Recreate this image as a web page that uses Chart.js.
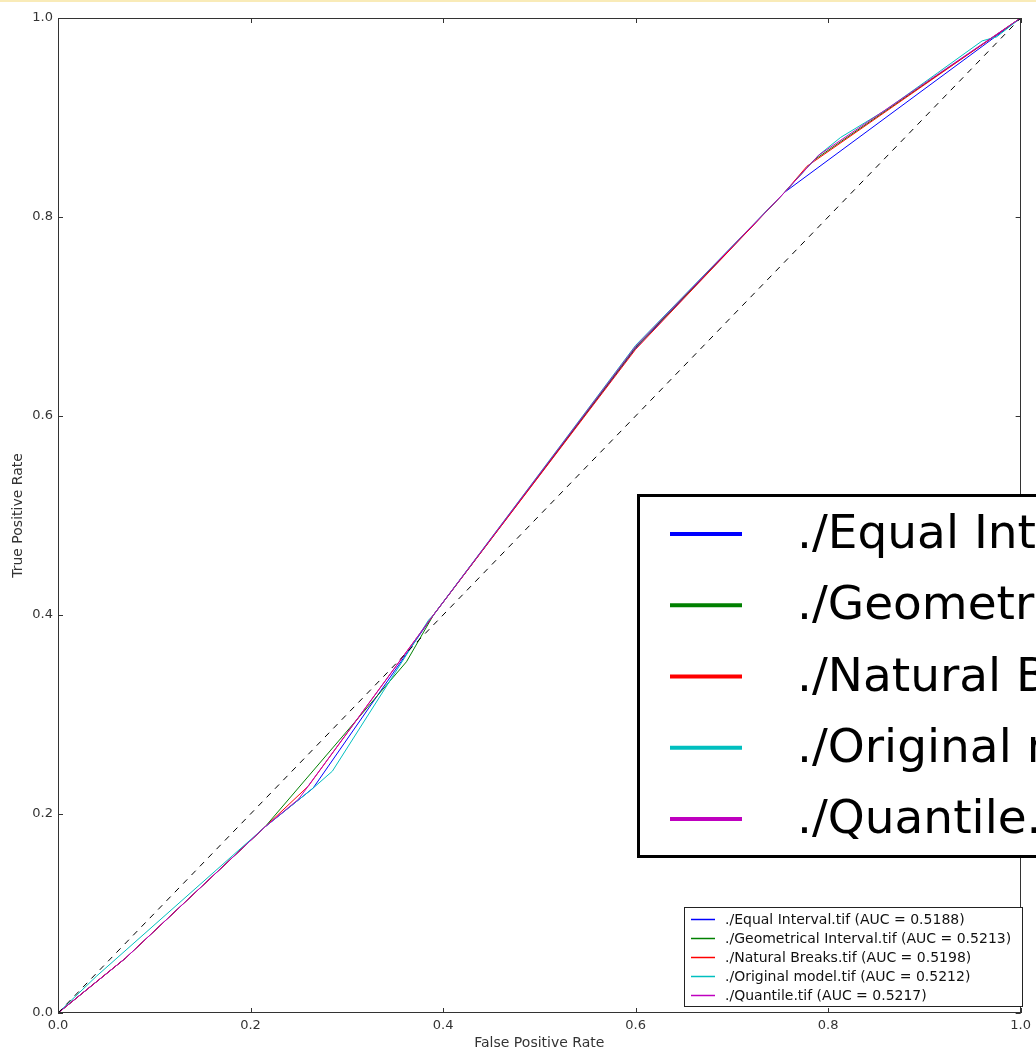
<!DOCTYPE html>
<html>
<head>
<meta charset="utf-8">
<script src="https://cdn.jsdelivr.net/npm/chart.js@4.4.1/dist/chart.umd.min.js"></script>
<style>
  html, body { margin: 0; padding: 0; background: #fff; }
  #wrap { position: relative; width: 1036px; height: 1052px; overflow: hidden; }
  #topband { position: absolute; left: 0; top: 0; width: 1036px; height: 2px; background: #f9ebb8; }
</style>
</head>
<body>
<div id="wrap">
  <canvas id="roc" width="1036" height="1052"></canvas>
  <div id="topband"></div>
</div>
<script>
// series names and colours (matplotlib classic b, g, r, c, m)
const names = [
  './Equal Interval.tif (AUC = 0.5188)',
  './Geometrical Interval.tif (AUC = 0.5213)',
  './Natural Breaks.tif (AUC = 0.5198)',
  './Original model.tif (AUC = 0.5212)',
  './Quantile.tif (AUC = 0.5217)'
];
const colors = ['#0000ff', '#008000', '#ff0000', '#00bfbf', '#bf00bf'];

// ROC points
const equalFpr = [0, 0.07, 0.215, 0.265, 0.39, 0.6, 0.755, 1];
const equalTpr = [0, 0.055, 0.187, 0.226, 0.40, 0.668, 0.825, 1];

const geoFpr = [0, 0.07, 0.215, 0.362, 0.39, 0.6, 0.755, 0.785, 1];
const geoTpr = [0, 0.055, 0.187, 0.353, 0.40, 0.669, 0.825, 0.857, 1];

const naturalFpr = [0, 0.07, 0.215, 0.26, 0.39, 0.6, 0.755, 0.778, 1];
const naturalTpr = [0, 0.055, 0.187, 0.228, 0.40, 0.667, 0.825, 0.851, 1];

const originalFpr = [0, 0.04, 0.215, 0.265, 0.285, 0.385, 0.39, 0.6, 0.755, 0.79, 0.813, 0.859, 0.914, 0.96, 0.975, 1];
const originalTpr = [0, 0.037, 0.187, 0.226, 0.243, 0.395, 0.40, 0.671, 0.825, 0.862, 0.88, 0.907, 0.945, 0.977, 0.981, 1];

const quantileFpr = [0, 0.07, 0.215, 0.25, 0.39, 0.6, 0.755, 0.79, 1];
const quantileTpr = [0, 0.055, 0.187, 0.215, 0.40, 0.670, 0.825, 0.862, 1];

const chanceFpr = [0, 1];
const chanceTpr = [0, 1];

const tickValues = [0, 0.2, 0.4, 0.6, 0.8, 1.0];

const seriesFpr = [equalFpr, geoFpr, naturalFpr, originalFpr, quantileFpr];
const seriesTpr = [equalTpr, geoTpr, naturalTpr, originalTpr, quantileTpr];

function toPoints(xs, ys) {
  return xs.map((x, i) => ({ x: x, y: ys[i] }));
}

const datasets = names.map((name, i) => ({
  label: name,
  data: toPoints(seriesFpr[i], seriesTpr[i]),
  borderColor: colors[i],
  backgroundColor: colors[i],
  borderWidth: 1,
  showLine: true,
  pointRadius: 0,
  order: 5 - i
}));
datasets.push({
  label: 'chance',
  data: toPoints(chanceFpr, chanceTpr),
  borderColor: '#000',
  borderWidth: 1,
  borderDash: [6, 6],
  showLine: true,
  pointRadius: 0,
  order: 0
});

const FONT = 'DejaVu Sans';

// frame with inward ticks on all four sides
const framePlugin = {
  id: 'frame',
  afterDatasetsDraw(chart) {
    const { ctx, chartArea: a, scales } = chart;
    ctx.save();
    ctx.strokeStyle = '#333';
    ctx.lineWidth = 1;
    ctx.strokeRect(Math.round(a.left) + 0.5, Math.round(a.top) + 0.5,
      Math.round(a.right - a.left) - 1, Math.round(a.bottom - a.top) - 1);
    ctx.beginPath();
    tickValues.forEach(v => {
      const x = Math.round(scales.x.getPixelForValue(v)) + 0.5;
      ctx.moveTo(x, a.bottom); ctx.lineTo(x, a.bottom - 5);
      ctx.moveTo(x, a.top); ctx.lineTo(x, a.top + 5);
      const y = Math.round(scales.y.getPixelForValue(v)) + 0.5;
      ctx.moveTo(a.left, y); ctx.lineTo(a.left + 5, y);
      ctx.moveTo(a.right, y); ctx.lineTo(a.right - 5, y);
    });
    ctx.stroke();
    ctx.restore();
  }
};

// two legends: the big one sticking out on the right, the normal one bottom right
const legendPlugin = {
  id: 'legends',
  afterDraw(chart) {
    const ctx = chart.ctx;
    const sets = chart.data.datasets.slice(0, names.length);
    ctx.save();

    // big legend
    ctx.fillStyle = '#fff';
    ctx.fillRect(638, 495, 460, 362);
    ctx.strokeStyle = '#000';
    ctx.lineWidth = 3;
    ctx.strokeRect(638.5, 495.5, 460, 361);
    ctx.font = '47px "' + FONT + '"';
    ctx.textBaseline = 'middle';
    ctx.textAlign = 'left';
    sets.forEach((ds, i) => {
      const y = 534 + i * 71.25;
      ctx.strokeStyle = ds.borderColor;
      ctx.lineWidth = 4;
      ctx.beginPath();
      ctx.moveTo(670, y); ctx.lineTo(742, y);
      ctx.stroke();
      ctx.fillStyle = '#000';
      ctx.fillText(ds.label, 797, y + 2);
    });

    // small legend
    ctx.fillStyle = '#fff';
    ctx.fillRect(684, 907, 339, 100);
    ctx.strokeStyle = '#222';
    ctx.lineWidth = 1;
    ctx.strokeRect(684.5, 907.5, 338, 99);
    ctx.font = '14px "' + FONT + '"';
    sets.forEach((ds, i) => {
      const y = 919 + i * 19;
      ctx.strokeStyle = ds.borderColor;
      ctx.lineWidth = 1.5;
      ctx.beginPath();
      ctx.moveTo(691, y + 0.5); ctx.lineTo(715, y + 0.5);
      ctx.stroke();
      ctx.fillStyle = '#111';
      ctx.fillText(ds.label, 725, y + 1);
    });
    ctx.restore();
  }
};

const tickFont = { family: FONT, size: 13 };
const titleFont = { family: FONT, size: 14 };

new Chart(document.getElementById('roc'), {
  type: 'scatter',
  data: { datasets: datasets },
  options: {
    responsive: false,
    animation: false,
    layout: { padding: { top: 18, right: 13, left: 0, bottom: 0 } },
    plugins: { legend: { display: false }, tooltip: { enabled: false } },
    elements: { line: { tension: 0 }, point: { radius: 0 } },
    scales: {
      x: {
        type: 'linear', min: 0, max: 1,
        grid: { display: false, drawTicks: false },
        border: { display: false },
        ticks: {
          stepSize: 0.2, padding: 5, color: '#333', font: tickFont,
          autoSkip: false, maxRotation: 0,
          callback: v => v.toFixed(1)
        },
        title: { display: true, text: 'False Positive Rate', color: '#333', font: titleFont, padding: { top: 0, bottom: 0 } },
        afterFit: s => { s.height = 39; }
      },
      y: {
        type: 'linear', min: 0, max: 1,
        grid: { display: false, drawTicks: false },
        border: { display: false },
        ticks: {
          stepSize: 0.2, padding: 5, color: '#333', font: tickFont,
          autoSkip: false,
          callback: v => v.toFixed(1)
        },
        title: { display: true, text: 'True Positive Rate', color: '#333', font: titleFont, padding: { top: 10, bottom: 0 } },
        afterFit: s => { s.width = 58; }
      }
    }
  },
  plugins: [framePlugin, legendPlugin]
});
</script>
</body>
</html>
